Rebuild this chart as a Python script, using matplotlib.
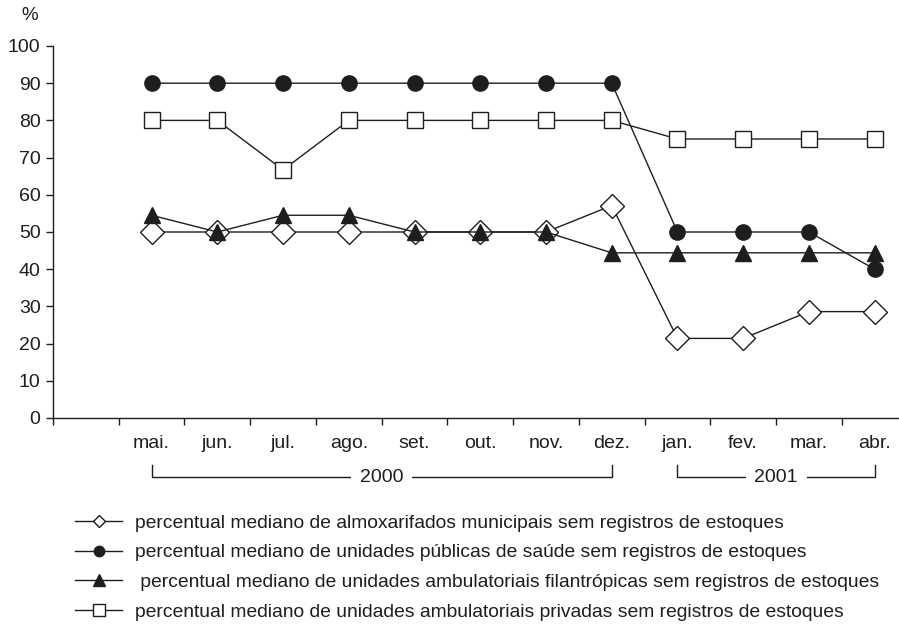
import numpy as np
import matplotlib
matplotlib.use("Agg")
import matplotlib.pyplot as plt
from matplotlib.lines import Line2D

plt.rcParams['font.family'] = ['Liberation Sans', 'DejaVu Sans']

months = ["mai.", "jun.", "jul.", "ago.", "set.", "out.", "nov.", "dez.",
          "jan.", "fev.", "mar.", "abr."]
years = ["2000", "2001"]
year_spans = [(0, 7), (8, 11)]

almoxarifados = [50, 50, 50, 50, 50, 50, 50, 57.1, 21.4, 21.4, 28.6, 28.6]
publicas = [90, 90, 90, 90, 90, 90, 90, 90, 50, 50, 50, 40]
filantropicas = [54.5, 50, 54.5, 54.5, 50, 50, 50, 44.4, 44.4, 44.4, 44.4, 44.4]
privadas = [80, 80, 66.7, 80, 80, 80, 80, 80, 75, 75, 75, 75]

labels = [
    "percentual mediano de almoxarifados municipais sem registros de estoques",
    "percentual mediano de unidades públicas de saúde sem registros de estoques",
    " percentual mediano de unidades ambulatoriais filantrópicas sem registros de estoques",
    "percentual mediano de unidades ambulatoriais privadas sem registros de estoques",
]

ink = "#1e1e1e"
x = np.arange(len(months))
fs = 14

fig = plt.figure(figsize=(8.99, 6.24), dpi=100)
ax = fig.add_axes([53 / 899, 1 - 418 / 624, (907.5 - 53) / 899, 372 / 624])

lw = 1.0
ax.plot(x, almoxarifados, color=ink, lw=lw, marker="D", ms=12, mfc="white",
        mec=ink, mew=1.0, zorder=3)
ax.plot(x, publicas, color=ink, lw=lw, marker="o", ms=11, mfc=ink,
        mec=ink, zorder=4)
ax.plot(x, filantropicas, color=ink, lw=lw, marker="^", ms=11.5, mfc=ink,
        mec=ink, zorder=5)
ax.plot(x, privadas, color=ink, lw=lw, marker="s", ms=11.5, mfc="white",
        mec=ink, mew=1.0, zorder=3)

ax.set_xlim(-1.5, 11.5)
ax.set_ylim(0, 100)
ax.set_yticks(np.arange(0, 101, 10))
ax.set_xticks(np.arange(-1.5, 12, 1))
ax.set_xticklabels([])
ax.set_xticks(x, months, minor=True)
ax.tick_params(axis="x", which="minor", length=0, pad=12)
ax.tick_params(axis="both", which="major", direction="out", length=5,
               width=1, color=ink, labelsize=fs, labelcolor=ink, pad=4)
ax.tick_params(axis="x", which="minor", labelsize=fs, labelcolor=ink)
for s in ["top", "right"]:
    ax.spines[s].set_visible(False)
for s in ["left", "bottom"]:
    ax.spines[s].set_color(ink)
    ax.spines[s].set_linewidth(1.0)

# year brackets under the month labels
tr = ax.get_xaxis_transform()
yb = -(477 - 418) / 372
yt = -(465 - 418) / 372
for yr, (a, b) in zip(years, year_spans):
    ax.plot([a, a, b, b], [yt, yb, yb, yt], color=ink, lw=1.0,
            transform=tr, clip_on=False)
    ax.text((a + b) / 2, yb, yr, transform=tr, ha="center", va="center",
            fontsize=fs, color=ink,
            bbox=dict(boxstyle="square", pad=0.45, fc="white", ec="none"))

fig.text(30 / 899, 1 - 16 / 624, "%", ha="center", va="center",
         fontsize=13.5, color=ink)

handles = [
    Line2D([], [], color=ink, lw=1.0, marker="D", ms=6, mfc="white", mec=ink),
    Line2D([], [], color=ink, lw=1.0, marker="o", ms=7.5, mfc=ink, mec=ink),
    Line2D([], [], color=ink, lw=1.0, marker="^", ms=8, mfc=ink, mec=ink),
    Line2D([], [], color=ink, lw=1.0, marker="s", ms=8, mfc="white", mec=ink),
]
leg = fig.legend(handles, labels, loc="upper left",
                 bbox_to_anchor=(75 / 899, 1 - 514 / 624), frameon=False,
                 fontsize=13.9, handlelength=2.45, handletextpad=0.65,
                 labelspacing=0.64, borderpad=0, borderaxespad=0)
for t in leg.get_texts():
    t.set_color(ink)

fig.savefig("out.png", dpi=100)
